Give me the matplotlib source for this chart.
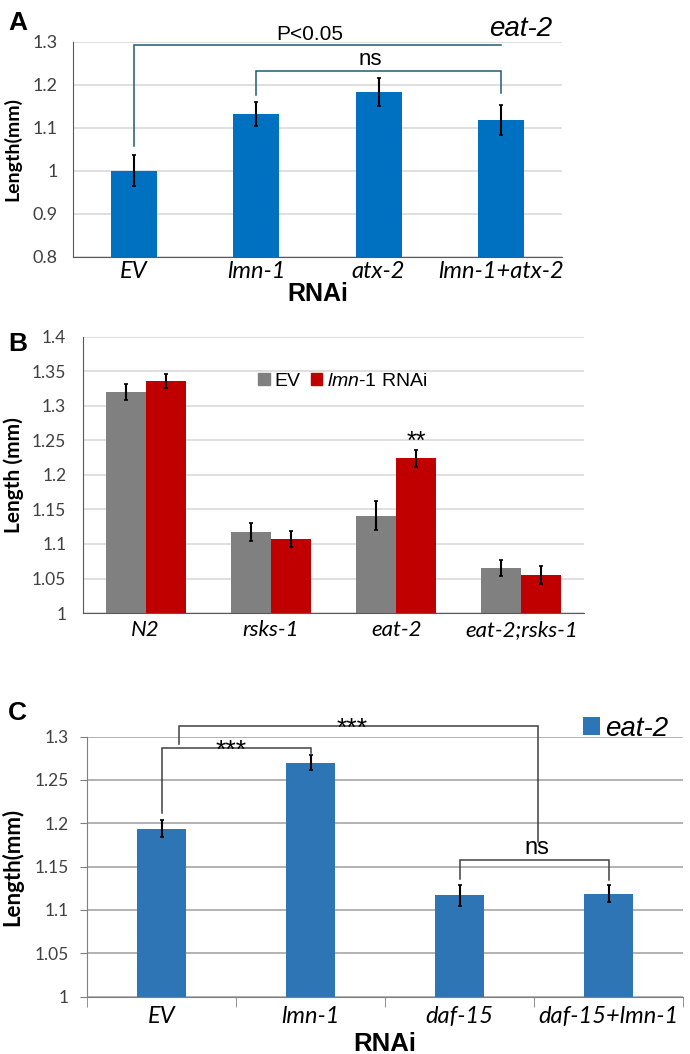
import numpy as np
import matplotlib
matplotlib.use('Agg')
import matplotlib.pyplot as plt
from matplotlib.patches import Patch

plt.rcParams['mathtext.fontset'] = 'custom'
plt.rcParams['mathtext.it'] = 'Liberation Sans:italic'
plt.rcParams['mathtext.rm'] = 'Liberation Sans'

# ---- data ----
# panel A
a_labels = ['EV', 'lmn-1', 'atx-2', 'lmn-1+atx-2']
a_means = [1.000, 1.132, 1.183, 1.119]
a_err = [0.036, 0.028, 0.033, 0.035]
# panel B
b_labels = ['N2', 'rsks-1', 'eat-2', 'eat-2;rsks-1']
b_ev = [1.320, 1.118, 1.141, 1.065]
b_ev_err = [0.012, 0.013, 0.021, 0.012]
b_lmn = [1.336, 1.107, 1.224, 1.055]
b_lmn_err = [0.010, 0.012, 0.012, 0.013]
# panel C
c_labels = ['EV', 'lmn-1', 'daf-15', 'daf-15+lmn-1']
c_means = [1.194, 1.270, 1.117, 1.119]
c_err = [0.010, 0.009, 0.012, 0.010]

tickfont = 'Lato'
labfont = 'Liberation Sans'

fig = plt.figure(figsize=(6.9, 10.54), dpi=100)

def style_axes(ax, gridcolor):
    ax.spines['top'].set_visible(False)
    ax.spines['right'].set_visible(False)
    ax.spines['left'].set_color('#595959')
    ax.spines['bottom'].set_color('#595959')
    ax.yaxis.grid(True, color=gridcolor, linewidth=1.2)
    ax.set_axisbelow(True)

def bracket(ax, x1, x2, y1, ytop, y2, color, lw=1.1):
    ax.plot([x1, x1, x2, x2], [y1, ytop, ytop, y2], color=color, lw=lw,
            solid_joinstyle='miter', clip_on=False)

# ---------------- A ----------------
ax1 = fig.add_axes([0.1058, 0.7562, 0.7087, 0.204])
xa = np.arange(len(a_labels))
ax1.bar(xa, a_means, width=0.375, color='#0070C0', zorder=2)
ax1.errorbar(xa, a_means, yerr=a_err, fmt='none', ecolor='black',
             elinewidth=1.5, capsize=1.5, capthick=1.2, zorder=3)
style_axes(ax1, '#d9d9d9')
ax1.set_ylim(0.8, 1.3)
ax1.set_xlim(-0.5, 3.5)
ax1.set_yticks([0.8, 0.9, 1.0, 1.1, 1.2, 1.3])
ax1.set_yticklabels(['0.8', '0.9', '1', '1.1', '1.2', '1.3'],
                    fontsize=13, family=tickfont, color='#404040')
ax1.set_xticks(xa)
ax1.set_xticklabels(a_labels, fontsize=17, style='italic', family=tickfont)
ax1.tick_params(axis='y', length=0, pad=11)
ax1.tick_params(axis='x', length=0, pad=3)
ax1.set_ylabel('Length(mm)', fontsize=14, fontweight='bold', family=tickfont, labelpad=8)
ax1.set_xlabel('RNAi', fontsize=18, fontweight='bold', family=labfont, labelpad=0)
col_a = '#1f5a73'
bracket(ax1, 0, 3, 1.058, 1.293, 1.293, col_a)
ax1.text(1.44, 1.295, 'P<0.05', ha='center', va='bottom', fontsize=15, family=labfont)
bracket(ax1, 1, 3, 1.177, 1.233, 1.181, col_a)
ax1.text(1.93, 1.235, 'ns', ha='center', va='bottom', fontsize=16, family=labfont)
ax1.text(0.916, 1.06, 'eat-2', transform=ax1.transAxes, ha='center', va='center',
         fontsize=20, style='italic', family=labfont)

# ---------------- B ----------------
ax2 = fig.add_axes([0.1203, 0.4184, 0.7261, 0.2619])
xb = np.arange(len(b_labels))
w = 0.32
ax2.bar(xb - w / 2, b_ev, width=w, color='#808080', zorder=2)
ax2.bar(xb + w / 2, b_lmn, width=w, color='#C00000', zorder=2)
ax2.errorbar(xb - w / 2, b_ev, yerr=b_ev_err, fmt='none', ecolor='black',
             elinewidth=1.5, capsize=1.5, capthick=1.2, zorder=3)
ax2.errorbar(xb + w / 2, b_lmn, yerr=b_lmn_err, fmt='none', ecolor='black',
             elinewidth=1.5, capsize=1.5, capthick=1.2, zorder=3)
style_axes(ax2, '#d9d9d9')
ax2.set_ylim(1.0, 1.4)
ax2.set_xlim(-0.5, 3.5)
ax2.set_yticks(np.arange(1.0, 1.401, 0.05))
ax2.set_yticklabels(['1', '1.05', '1.1', '1.15', '1.2', '1.25', '1.3', '1.35', '1.4'],
                    fontsize=12.5, family=tickfont, color='#404040')
ax2.set_xticks(xb)
ax2.set_xticklabels(b_labels, fontsize=16, style='italic', family=tickfont)
ax2.tick_params(axis='y', length=0, pad=12)
ax2.tick_params(axis='x', length=0, pad=5)
ax2.set_ylabel('Length (mm)', fontsize=15, fontweight='bold', family=tickfont, labelpad=6)
ax2.text(2 + w / 2, 1.248, '**', ha='center', va='center', fontsize=18, family=labfont)
ax2.legend([Patch(color='#808080'), Patch(color='#C00000')],
           ['EV', r'$\mathit{lmn}$-$\mathit{1}$ RNAi'],
           ncol=2, loc='center left', bbox_to_anchor=(0.315, 0.84), frameon=False,
           prop={'family': labfont, 'size': 14}, handlelength=0.6, handleheight=0.6,
           handletextpad=0.25, columnspacing=0.5)

# ---------------- C ----------------
ax3 = fig.add_axes([0.1261, 0.0544, 0.8638, 0.2467])
xc = np.arange(len(c_labels))
ax3.bar(xc, c_means, width=0.33, color='#2E75B6', zorder=2, label='eat-2')
ax3.errorbar(xc, c_means, yerr=c_err, fmt='none', ecolor='black',
             elinewidth=1.5, capsize=1.5, capthick=1.2, zorder=3)
style_axes(ax3, '#a6a6a6')
ax3.spines['left'].set_color('#7f7f7f')
ax3.spines['bottom'].set_color('#7f7f7f')
ax3.set_ylim(1.0, 1.3)
ax3.set_xlim(-0.5, 3.5)
ax3.set_yticks(np.arange(1.0, 1.301, 0.05))
ax3.set_yticklabels(['1', '1.05', '1.1', '1.15', '1.2', '1.25', '1.3'],
                    fontsize=12.5, family=tickfont, color='#404040')
ax3.tick_params(axis='y', length=5, color='#7f7f7f', pad=8)
ax3.set_xticks(xc)
ax3.set_xticklabels(c_labels, fontsize=17, style='italic', family=tickfont)
ax3.set_xticks(np.arange(-0.5, 3.51, 1.0), minor=True)
ax3.tick_params(axis='x', which='major', length=0, pad=7)
ax3.tick_params(axis='x', which='minor', length=7, color='#7f7f7f')
ax3.set_ylabel('Length(mm)', fontsize=16, fontweight='bold', family=tickfont, labelpad=8)
ax3.set_xlabel('RNAi', fontsize=18.5, fontweight='bold', family=labfont, labelpad=3)
col_c = '#404040'
bracket(ax3, 0, 1, 1.212, 1.287, 1.281, col_c)
ax3.text(0.466, 1.284, '***', ha='center', va='center', fontsize=19, family=labfont)
bracket(ax3, 0.117, 2.53, 1.291, 1.312, 1.179, col_c)
ax3.text(1.28, 1.309, '***', ha='center', va='center', fontsize=19, family=labfont)
bracket(ax3, 2, 3, 1.136, 1.158, 1.135, col_c)
ax3.text(2.52, 1.159, 'ns', ha='center', va='bottom', fontsize=17, family=labfont)
ax3.legend(loc='center left', bbox_to_anchor=(0.80, 1.03), frameon=False,
           prop={'family': labfont, 'size': 20, 'style': 'italic'},
           handlelength=0.6, handleheight=0.65, handletextpad=0.2, borderaxespad=0.3)

# panel letters
for lab, yy in [('A', 0.99), ('B', 0.685), ('C', 0.335)]:
    fig.text(0.012, yy, lab, fontsize=19, fontweight='bold', family=labfont, va='top')

fig.savefig('out.png', dpi=100)
